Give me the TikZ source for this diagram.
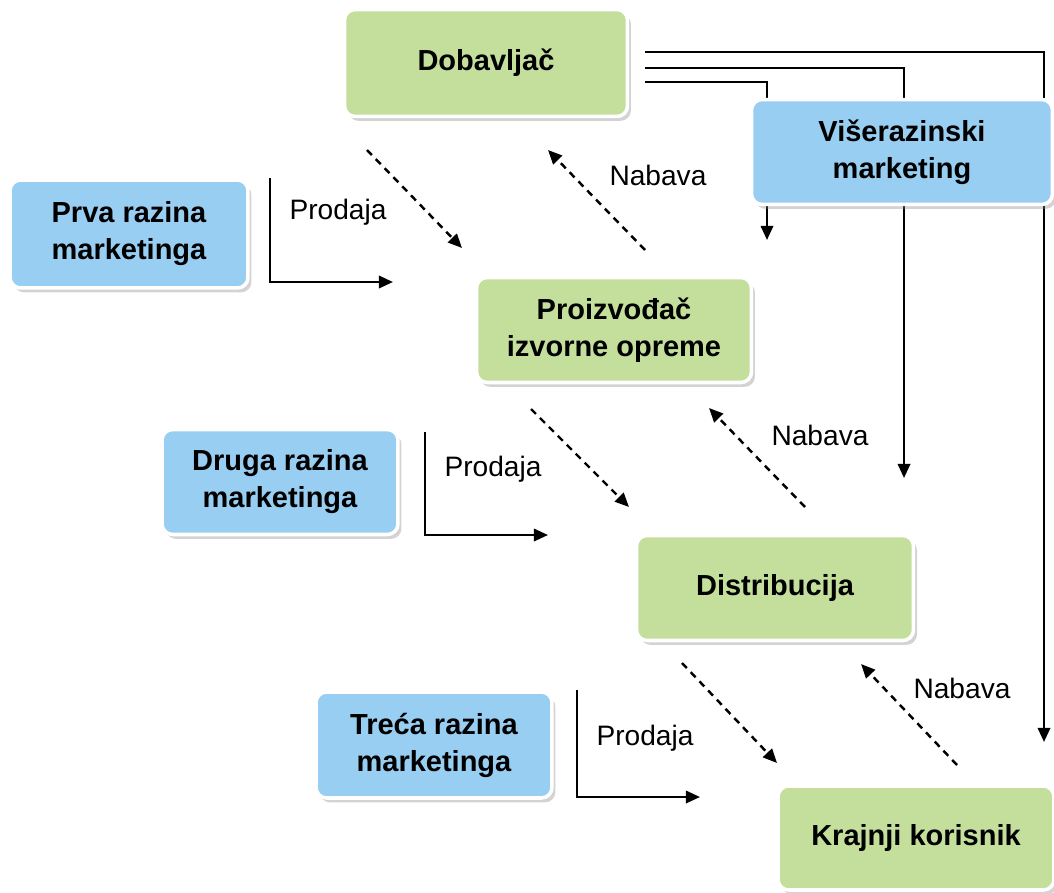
\documentclass[tikz,border=0pt]{standalone}
\usepackage{fontspec}
\setmainfont{Liberation Sans}
\usetikzlibrary{arrows.meta, shadows}

\definecolor{levelgreen}{RGB}{196,223,156}
\definecolor{levelblue}{RGB}{152,206,241}

\tikzset{
    stage/.style={rectangle, rounded corners=6pt, draw=white, line width=2pt,
        fill=levelgreen, align=center, inner sep=2pt,
        font=\fontsize{16.5}{21}\selectfont\bfseries,
        drop shadow={shadow xshift=2pt, shadow yshift=-2.5pt, opacity=0.35}},
    level/.style={stage, fill=levelblue},
    flow/.style={line width=1.4pt, -{Triangle[length=8pt, width=7pt]}},
    trade/.style={flow, dash pattern=on 4pt off 3.2pt},
    tag/.style={font=\fontsize{16}{18}\selectfont, inner sep=0pt}
}

\begin{document}
\begin{tikzpicture}[x=0.02cm, y=-0.02cm]
    \useasboundingbox (0,0) rectangle (1054,892);

    % lines from the supplier, drawn first so the box covers them
    \coordinate (s1) at (645,52);
    \coordinate (s2) at (645,68);
    \coordinate (s3) at (645,82);
    \coordinate (e1) at (1044,742);
    \coordinate (e2) at (904,478);
    \coordinate (e3) at (767,240);
    \draw[flow] (s1) -| (e1);
    \draw[flow] (s2) -| (e2);
    \draw[flow] (s3) -| (e3);

    \node[stage, minimum width=5.66cm, minimum height=2.14cm] (dob) at (486,63) {Dobavljač};
    \node[level, minimum width=6.02cm, minimum height=2.1cm] (vis) at (902,152) {Višerazinski\\marketing};
    \node[level, minimum width=4.76cm, minimum height=2.16cm] (prva) at (129,234) {Prva razina\\marketinga};
    \node[stage, minimum width=5.5cm, minimum height=2.1cm] (proiz) at (614,330) {Proizvođač\\izvorne opreme};
    \node[level, minimum width=4.72cm, minimum height=2.1cm] (druga) at (280,482) {Druga razina\\marketinga};
    \node[stage, minimum width=5.54cm, minimum height=2.1cm] (dist) at (775,588) {Distribucija};
    \node[level, minimum width=4.72cm, minimum height=2.12cm] (treca) at (434,745) {Treća razina\\marketinga};
    \node[stage, minimum width=5.52cm, minimum height=2.08cm] (kraj) at (916,838) {Krajnji korisnik};

    % first level
    \coordinate (p1a) at (367,150);
    \coordinate (p1b) at (462,248);
    \coordinate (n1a) at (645,250);
    \coordinate (n1b) at (548,150);
    \coordinate (l1a) at (270,178);
    \coordinate (l1b) at (393,282);
    \draw[trade] (p1a) -- (p1b);
    \draw[trade] (n1a) -- (n1b);
    \draw[flow] (l1a) |- (l1b);
    \node[tag] (pr1) at (338,212) {Prodaja};
    \node[tag] (na1) at (658,175) {Nabava};

    % second level
    \coordinate (p2a) at (531,409);
    \coordinate (p2b) at (629,507);
    \coordinate (n2a) at (805,507);
    \coordinate (n2b) at (709,408);
    \coordinate (l2a) at (425,432);
    \coordinate (l2b) at (548,535);
    \draw[trade] (p2a) -- (p2b);
    \draw[trade] (n2a) -- (n2b);
    \draw[flow] (l2a) |- (l2b);
    \node[tag] (pr2) at (493,469) {Prodaja};
    \node[tag] (na2) at (820,435) {Nabava};

    % third level
    \coordinate (p3a) at (682,663);
    \coordinate (p3b) at (777,763);
    \coordinate (n3a) at (957,765);
    \coordinate (n3b) at (861,664);
    \coordinate (l3a) at (577,690);
    \coordinate (l3b) at (700,797);
    \draw[trade] (p3a) -- (p3b);
    \draw[trade] (n3a) -- (n3b);
    \draw[flow] (l3a) |- (l3b);
    \node[tag] (pr3) at (645,738) {Prodaja};
    \node[tag] (na3) at (962,688) {Nabava};
\end{tikzpicture}
\end{document}
